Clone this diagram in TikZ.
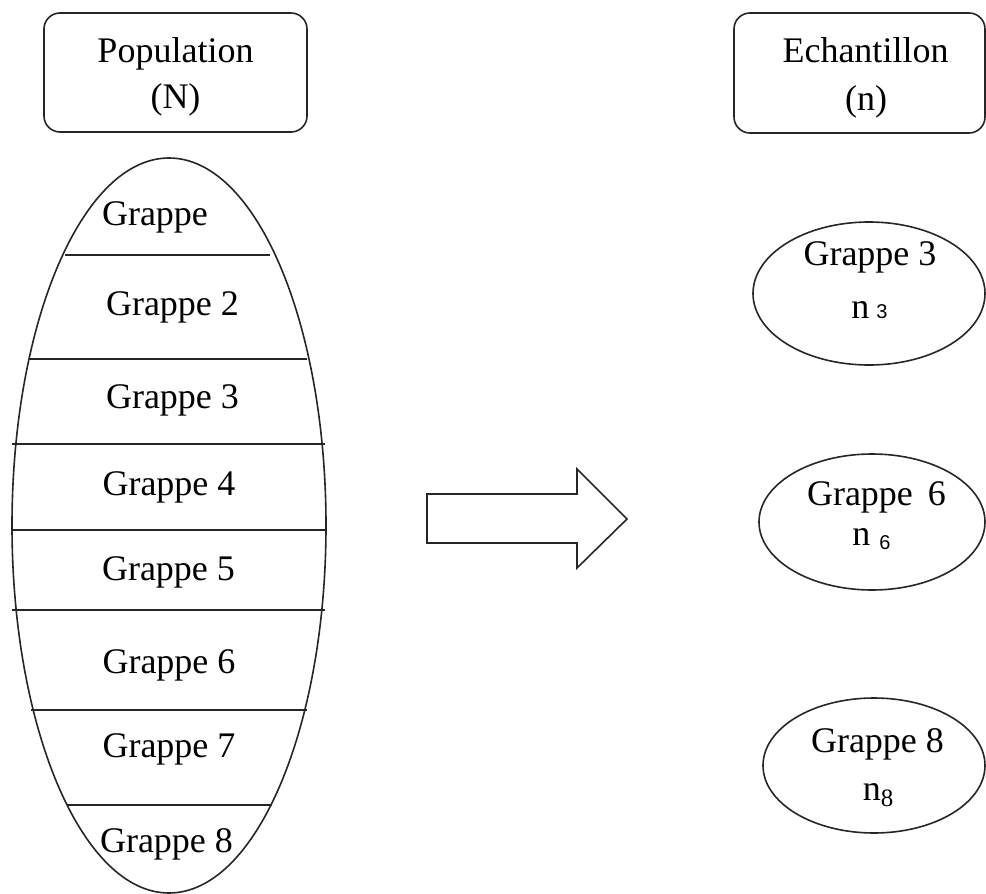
\documentclass[tikz,border=0pt]{standalone}
\usepackage{fontspec}
\setmainfont{Liberation Serif}
\setsansfont{Liberation Sans}
\usetikzlibrary{shapes.geometric}

\tikzset{
  outline/.style={draw=black!85, line width=1.6pt},
  titlebox/.style={outline, rounded corners=16pt, inner sep=0pt},
  oval/.style={outline, ellipse, inner sep=0pt},
  divider/.style={draw=black!85, line width=1.6pt},
  lbl/.style={inner sep=0pt, anchor=base, font=\fontsize{36}{43}\selectfont},
}
\newcommand{\subsans}[1]{{\sffamily\fontsize{20}{20}\selectfont #1}}
\newcommand{\subserif}[1]{{\rmfamily\fontsize{25}{25}\selectfont #1}}

\begin{document}
\begin{tikzpicture}[x=1pt, y=-1pt]
  \useasboundingbox (0,0) rectangle (986,894);

  % header boxes
  \node[titlebox, minimum width=263pt, minimum height=119pt] (pop) at (175.5,72.5) {};
  \node[lbl] (popA) at (175.5,62) {Population};
  \node[lbl] (popB) at (175.5,108) {(N)};

  \node[titlebox, minimum width=251pt, minimum height=120pt] (ech) at (859.5,73) {};
  \node[lbl] (echA) at (865.5,62) {Echantillon};
  \node[lbl] (echB) at (866,110) {(n)};

  % population split into clusters
  \node[oval, minimum width=314pt, minimum height=735pt] (popoval) at (169,525.5) {};
  \coordinate (l1a) at (65,255);   \coordinate (l1b) at (270,255);
  \coordinate (l2a) at (29,359);   \coordinate (l2b) at (307,359);
  \coordinate (l3a) at (12,444);   \coordinate (l3b) at (325,444);
  \coordinate (l4a) at (12,530);   \coordinate (l4b) at (325,530);
  \coordinate (l5a) at (12,610);   \coordinate (l5b) at (325,610);
  \coordinate (l6a) at (31,710);   \coordinate (l6b) at (307,710);
  \coordinate (l7a) at (67,805);   \coordinate (l7b) at (272,805);
  \foreach \k in {1,...,7} { \draw[divider] (l\k a) -- (l\k b); }

  \node[lbl] (c1) at (155,225) {Grappe};
  \node[lbl] (c2) at (172.5,315) {Grappe 2};
  \node[lbl] (c3) at (172.5,408) {Grappe 3};
  \node[lbl] (c4) at (169,495) {Grappe 4};
  \node[lbl] (c5) at (168.5,580) {Grappe 5};
  \node[lbl] (c6) at (169,673) {Grappe 6};
  \node[lbl] (c7) at (169,757) {Grappe 7};
  \node[lbl] (c8) at (166.5,852) {Grappe 8};

  % block arrow
  \coordinate (a1) at (427,494);
  \coordinate (a2) at (577,494);
  \coordinate (a3) at (577,469);
  \coordinate (a4) at (627,519);
  \coordinate (a5) at (577,568);
  \coordinate (a6) at (577,543);
  \coordinate (a7) at (427,543);
  \draw[outline, line join=miter] (a1) -- (a2) -- (a3) -- (a4) -- (a5) -- (a6) -- (a7) -- cycle;

  % selected clusters
  \node[oval, minimum width=232pt, minimum height=143pt] (s3) at (869,293.5) {};
  \node[lbl] (s3a) at (870,265) {Grappe 3};
  \node[lbl] (s3b) at (869.5,318) {n\hspace{7pt}\subsans{3}};

  \node[oval, minimum width=226pt, minimum height=136pt] (s6) at (872,522) {};
  \node[lbl] (s6a) at (876.5,505) {Grappe~\,6};
  \node[lbl] (s6b) at (871.5,545) {n\hspace{9pt}\raisebox{-4pt}{\subsans{6}}};

  \node[oval, minimum width=222pt, minimum height=135pt] (s8) at (874,765.5) {};
  \node[lbl] (s8a) at (877.5,752) {Grappe 8};
  \node[lbl] (s8b) at (878,800) {n\raisebox{-6pt}{\subserif{8}}};
\end{tikzpicture}
\end{document}
